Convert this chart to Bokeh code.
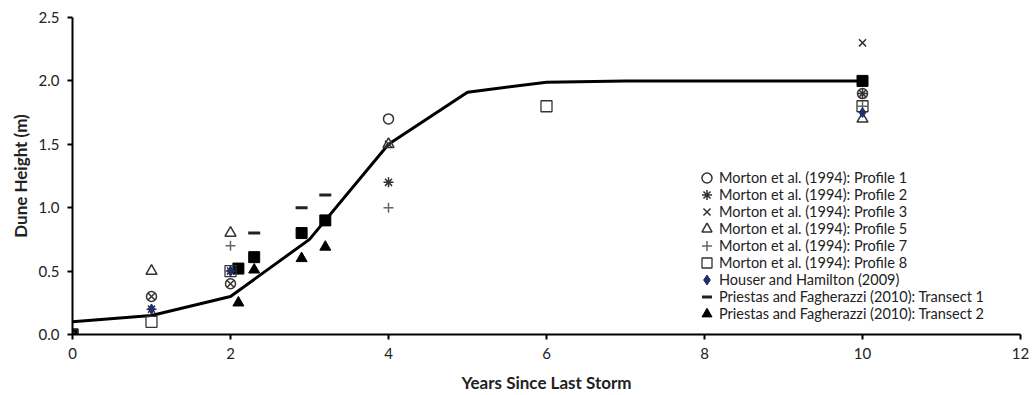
from bokeh.plotting import figure
from bokeh.embed import file_html
from bokeh.resources import INLINE
from bokeh.models import FixedTicker, Legend, LegendItem

# Model curve
curve_x = [0, 1, 2, 3, 4, 5, 6, 7, 10]
curve_y = [0.1, 0.15, 0.3, 0.75, 1.5, 1.91, 1.99, 2.0, 2.0]

# Morton et al. (1994)
p1_x = [1, 2, 4, 10]
p1_y = [0.3, 0.4, 1.7, 1.9]
p2_x = [1, 2, 4, 10]
p2_y = [0.2, 0.5, 1.2, 1.9]
p3_x = [1, 2, 4, 10]
p3_y = [0.3, 0.4, 1.5, 2.3]
p5_x = [1, 2, 4, 10]
p5_y = [0.5, 0.8, 1.5, 1.7]
p7_x = [2, 4, 10]
p7_y = [0.7, 1.0, 1.8]
p8_x = [0, 1, 2, 6, 10]
p8_y = [0.0, 0.1, 0.5, 1.8, 1.8]
# Houser and Hamilton (2009)
hh_x = [0, 1, 2, 10]
hh_y = [0.0, 0.2, 0.5, 1.75]
# Priestas and Fagherazzi (2010)
t1_x = [2.3, 2.9, 3.2]
t1_y = [0.8, 1.0, 1.1]
t2_x = [2.1, 2.3, 2.9, 3.2]
t2_y = [0.25, 0.51, 0.6, 0.69]
# filled squares (no legend entry)
fs_x = [0, 2.1, 2.3, 2.9, 3.2, 10]
fs_y = [0.0, 0.52, 0.61, 0.8, 0.9, 2.0]

x_ticks = [0, 2, 4, 6, 8, 10, 12]
y_ticks = [0.0, 0.5, 1.0, 1.5, 2.0, 2.5]
y_tick_labels = ["0.0", "0.5", "1.0", "1.5", "2.0", "2.5"]

legend_labels = [
    "Morton et al. (1994): Profile 1",
    "Morton et al. (1994): Profile 2",
    "Morton et al. (1994): Profile 3",
    "Morton et al. (1994): Profile 5",
    "Morton et al. (1994): Profile 7",
    "Morton et al. (1994): Profile 8",
    "Houser and Hamilton (2009)",
    "Priestas and Fagherazzi (2010): Transect 1",
    "Priestas and Fagherazzi (2010): Transect 2",
]

FONT = "Lato"

p = figure(width=1032, height=395, x_range=(0, 12), y_range=(0, 2.5),
           output_backend="svg", toolbar_location=None,
           min_border_left=72, min_border_right=12, min_border_top=17, min_border_bottom=60)
p.outline_line_color = None
p.grid.visible = False

for ax in (p.xaxis[0], p.yaxis[0]):
    ax.axis_line_color = "black"
    ax.axis_line_width = 2
    ax.major_tick_line_color = "black"
    ax.major_tick_line_width = 2
    ax.major_tick_out = 5
    ax.major_tick_in = 0
    ax.minor_tick_line_color = None
    ax.major_label_text_font = FONT
    ax.major_label_text_font_size = "15px"
    ax.major_label_text_color = "#222222"
    ax.axis_label_text_font = FONT
    ax.axis_label_text_font_size = "17px"
    ax.axis_label_text_font_style = "bold"
    ax.axis_label_text_color = "#222222"

p.xaxis.ticker = FixedTicker(ticks=x_ticks)
p.yaxis.ticker = FixedTicker(ticks=y_ticks)
p.yaxis.major_label_overrides = {t: l for t, l in zip(y_ticks, y_tick_labels)}
p.xaxis.axis_label = "Years Since Last Storm"
p.yaxis.axis_label = "Dune Height (m)"
p.xaxis.major_label_standoff = 8
p.xaxis.axis_label_standoff = 10
p.yaxis.major_label_standoff = 8
p.yaxis.axis_label_standoff = 5

p.line(curve_x, curve_y, line_color="black", line_width=3)

S = 10
r_fs = p.scatter(fs_x, fs_y, marker="square", size=S + 1, fill_color="black", line_color="black")
r1 = p.scatter(p1_x, p1_y, marker="circle", size=S, fill_color=None, line_color="#333333", line_width=1.5)
r2 = p.scatter(p2_x, p2_y, marker="asterisk", size=S, line_color="#333333", line_width=1.5)
r3 = p.scatter(p3_x, p3_y, marker="x", size=S, line_color="#333333", line_width=1.5)
r5 = p.scatter(p5_x, p5_y, marker="triangle", size=S + 1, fill_color=None, line_color="#333333", line_width=1.5)
r7 = p.scatter(p7_x, p7_y, marker="cross", size=S, line_color="#666666", line_width=1.5)
r8 = p.scatter(p8_x, p8_y, marker="square", size=S + 1, fill_color=None, line_color="#333333", line_width=1.3)
rh = p.scatter(hh_x, hh_y, marker="diamond", size=S, fill_color="#1f2f6e", line_color="#1f2f6e")
rt1 = p.scatter(t1_x, t1_y, marker="dash", size=S + 2, line_color="#222222", line_width=3)
rt2 = p.scatter(t2_x, t2_y, marker="triangle", size=S + 1, fill_color="black", line_color="black")

renderers = [r1, r2, r3, r5, r7, r8, rh, rt1, rt2]

# one single-row legend per entry so rows can be packed tighter than the glyph box
row_pitch = 17.1
first_center_from_bottom = 335 - 178   # frame bottom minus first row centre (screen px)
glyph_box = 25
for k, (lab, r) in enumerate(zip(legend_labels, renderers)):
    center = first_center_from_bottom - k * row_pitch
    lg = Legend(items=[LegendItem(label=lab, renderers=[r])],
                location=(622, center - glyph_box / 2))
    lg.border_line_color = None
    lg.background_fill_alpha = 0
    lg.padding = 0
    lg.margin = 0
    lg.spacing = 0
    lg.glyph_width = glyph_box
    lg.glyph_height = glyph_box
    lg.label_height = glyph_box
    lg.label_standoff = -8
    lg.label_text_font = FONT
    lg.label_text_font_size = "14.5px"
    lg.label_text_color = "#222222"
    lg.label_text_baseline = "middle"
    p.add_layout(lg)

open("out.html", "w").write(file_html(p, INLINE))
